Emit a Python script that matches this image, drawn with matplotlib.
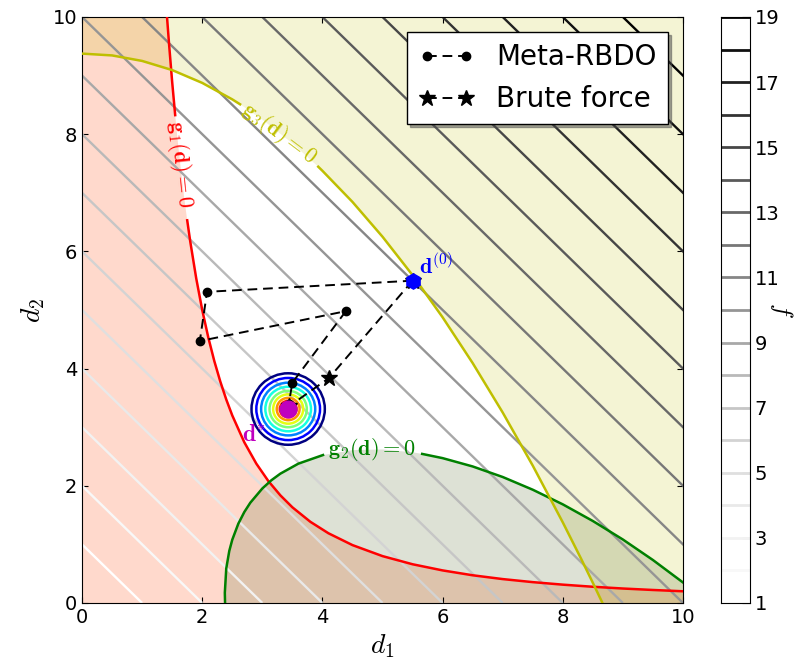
import numpy as np
import matplotlib.pyplot as plt
from matplotlib.collections import LineCollection
from matplotlib.patches import Circle

plt.rcParams['mathtext.fontset'] = 'cm'

# objective contour levels (f = d1 + d2) and colorbar ticks
f_levels = list(range(1, 20))
cbar_ticks = list(range(1, 20, 2))

# limit state curves g_i(d) = 0
g1_d1 = [1.414, 1.45, 1.5, 1.55, 1.6, 1.65, 1.7, 1.75, 1.8, 1.9, 2.0, 2.1, 2.2, 2.3, 2.4,
         2.5, 2.7, 2.9, 3.1, 3.3, 3.5, 3.8, 4.1, 4.5, 5.0, 5.5, 6.0, 6.5, 7.0, 7.5, 8.0,
         8.5, 9.0, 9.5, 10.0]
g1_d2 = [10.0, 9.513, 8.889, 8.325, 7.813, 7.346, 6.920, 6.531, 6.173, 5.540, 5.0, 4.535,
         4.132, 3.781, 3.472, 3.2, 2.743, 2.378, 2.081, 1.837, 1.633, 1.385, 1.190, 0.988,
         0.8, 0.661, 0.556, 0.473, 0.408, 0.356, 0.313, 0.277, 0.247, 0.222, 0.2]

g2_d1 = [2.38, 2.376, 2.4, 2.45, 2.5, 2.6, 2.7, 2.8, 3.0, 3.15, 3.3, 3.6, 4.01, 4.5, 5.0,
         5.5, 5.66, 6.0, 6.5, 7.0, 7.5, 8.0, 8.5, 9.0, 9.5, 10.0]
g2_d2 = [0.0, 0.174, 0.591, 0.888, 1.080, 1.352, 1.552, 1.711, 1.954, 2.094, 2.207, 2.378,
         2.525, 2.609, 2.620, 2.571, 2.544, 2.472, 2.330, 2.150, 1.933, 1.683, 1.399, 1.083,
         0.733, 0.350]

g3_d1 = [0.0, 0.5, 1.0, 1.5, 2.0, 2.5, 2.63, 3.0, 3.5, 3.93, 4.0, 4.5, 5.0, 5.5, 6.0, 6.5,
         7.0, 7.5, 8.0, 8.3, 8.5, 8.66]
g3_d2 = [9.375, 9.344, 9.25, 9.094, 8.875, 8.594, 8.510, 8.25, 7.844, 7.445, 7.375, 6.844,
         6.25, 5.594, 4.875, 4.094, 3.25, 2.344, 1.375, 0.764, 0.344, 0.0]

# optimisation histories
meta_d1 = [5.5, 2.08, 1.96, 4.39, 3.50, 3.44]
meta_d2 = [5.5, 5.31, 4.47, 4.98, 3.76, 3.40]
brute_d1 = [5.5, 4.11, 3.45]
brute_d2 = [5.5, 3.84, 3.36]
d0 = (5.5, 5.5)
d_opt = (3.43, 3.31)

# pdf rings around the optimum (radius in design units)
ring_radii = [0.61, 0.53, 0.45, 0.38, 0.31, 0.25, 0.19, 0.14, 0.09]

fig = plt.figure(figsize=(7.98, 6.66), dpi=100)
ax = fig.add_axes([0.1028, 0.0946, 0.7531, 0.8799])
cax = fig.add_axes([0.9035, 0.0946, 0.0363, 0.8799])

# infeasible regions
ax.fill([0, 0] + g1_d1 + [10], [0, 10] + g1_d2 + [0], color='orangered', alpha=0.2, lw=0, zorder=1)
ax.fill([0] + g3_d1 + [10, 10], [10] + g3_d2 + [0, 10], color='y', alpha=0.17, lw=0, zorder=1)
ax.fill(g2_d1 + [10], g2_d2 + [0], color='darkolivegreen', alpha=0.2, lw=0, zorder=1)

# objective contours
cmap = plt.cm.Greys
norm = plt.Normalize(1, 19)
segs = [[(0, c), (c, 0)] for c in f_levels]
lc = LineCollection(segs, colors=[cmap(norm(c)) for c in f_levels], linewidths=1.7, zorder=2)
ax.add_collection(lc)


def gap(xs, ys, lo, hi):
    # leave room for the inline label
    xs = np.array(xs, float)
    ys = np.array(ys, float)
    ys[(xs > lo) & (xs < hi)] = np.nan
    return xs, ys


x, y = gap(g1_d1, g1_d2, 1.55, 1.74)
ax.plot(x, y, color='red', lw=1.8, zorder=3)
x, y = gap(g2_d1, g2_d2, 4.01, 5.66)
ax.plot(x, y, color='g', lw=1.8, zorder=3)
x, y = gap(g3_d1, g3_d2, 2.63, 3.93)
ax.plot(x, y, color='y', lw=1.8, zorder=3)

ax.text(1.63, 7.48, r'$\mathbf{g}_1(\mathbf{d})=0$', color='red', fontsize=16,
        rotation=-84, ha='center', va='center', rotation_mode='anchor', zorder=7)
ax.text(3.29, 8.0, r'$\mathbf{g}_3(\mathbf{d})=0$', color='y', fontsize=16,
        rotation=-37, ha='center', va='center', rotation_mode='anchor', zorder=7)
ax.text(4.83, 2.62, r'$\mathbf{g}_2(\mathbf{d})=0$', color='g', fontsize=16,
        rotation=0, ha='center', va='center', rotation_mode='anchor', zorder=7)

# rings
ring_cols = plt.cm.jet(np.linspace(0, 1, len(ring_radii)))
for r, c in zip(ring_radii, ring_cols):
    ax.add_patch(Circle(d_opt, r, fill=False, edgecolor=c, lw=1.8, zorder=4))

ax.plot(meta_d1, meta_d2, color='k', ls='--', dashes=(5, 3), lw=1.4, marker='o', ms=6,
        label='Meta-RBDO', zorder=5)
ax.plot(brute_d1, brute_d2, color='k', ls='--', dashes=(5, 3), lw=1.4, marker='*', ms=12,
        label='Brute force', zorder=5)

ax.plot(*d0, marker='h', color='blue', ms=11, zorder=6)
ax.plot(*d_opt, marker='o', color='m', ms=12, zorder=6)
ax.text(5.6, 5.62, r'$\mathbf{d}^{(0)}$', color='blue', fontsize=16, zorder=7)
ax.text(2.66, 2.76, r'$\mathbf{d}^{*}$', color='m', fontsize=17, zorder=7)

ax.set_xlim(0, 10)
ax.set_ylim(0, 10)
ax.set_xticks([0, 2, 4, 6, 8, 10])
ax.set_yticks([0, 2, 4, 6, 8, 10])
ax.tick_params(direction='in', top=True, right=True, labelsize=14, length=4)
ax.set_xlabel('$d_1$', fontsize=20)
ax.set_ylabel('$d_2$', fontsize=20)

leg = ax.legend(loc='upper right', fontsize=20, shadow=True, fancybox=False, framealpha=1,
                edgecolor='k', handlelength=2.0, numpoints=2, borderaxespad=0.55)
leg.get_frame().set_linewidth(1.0)

# colorbar of the objective contours
for c in f_levels:
    cax.axhline(c, color=cmap(norm(c)), lw=2)
cax.set_xlim(0, 1)
cax.set_ylim(1, 19)
cax.set_xticks([])
cax.set_yticks(cbar_ticks)
cax.yaxis.tick_right()
cax.tick_params(direction='in', labelsize=14, length=6)
cax.set_ylabel('$f$', fontsize=18, rotation=270, va='center')
cax.yaxis.set_label_coords(2.1, 0.5)

fig.savefig('out.png', dpi=100)
